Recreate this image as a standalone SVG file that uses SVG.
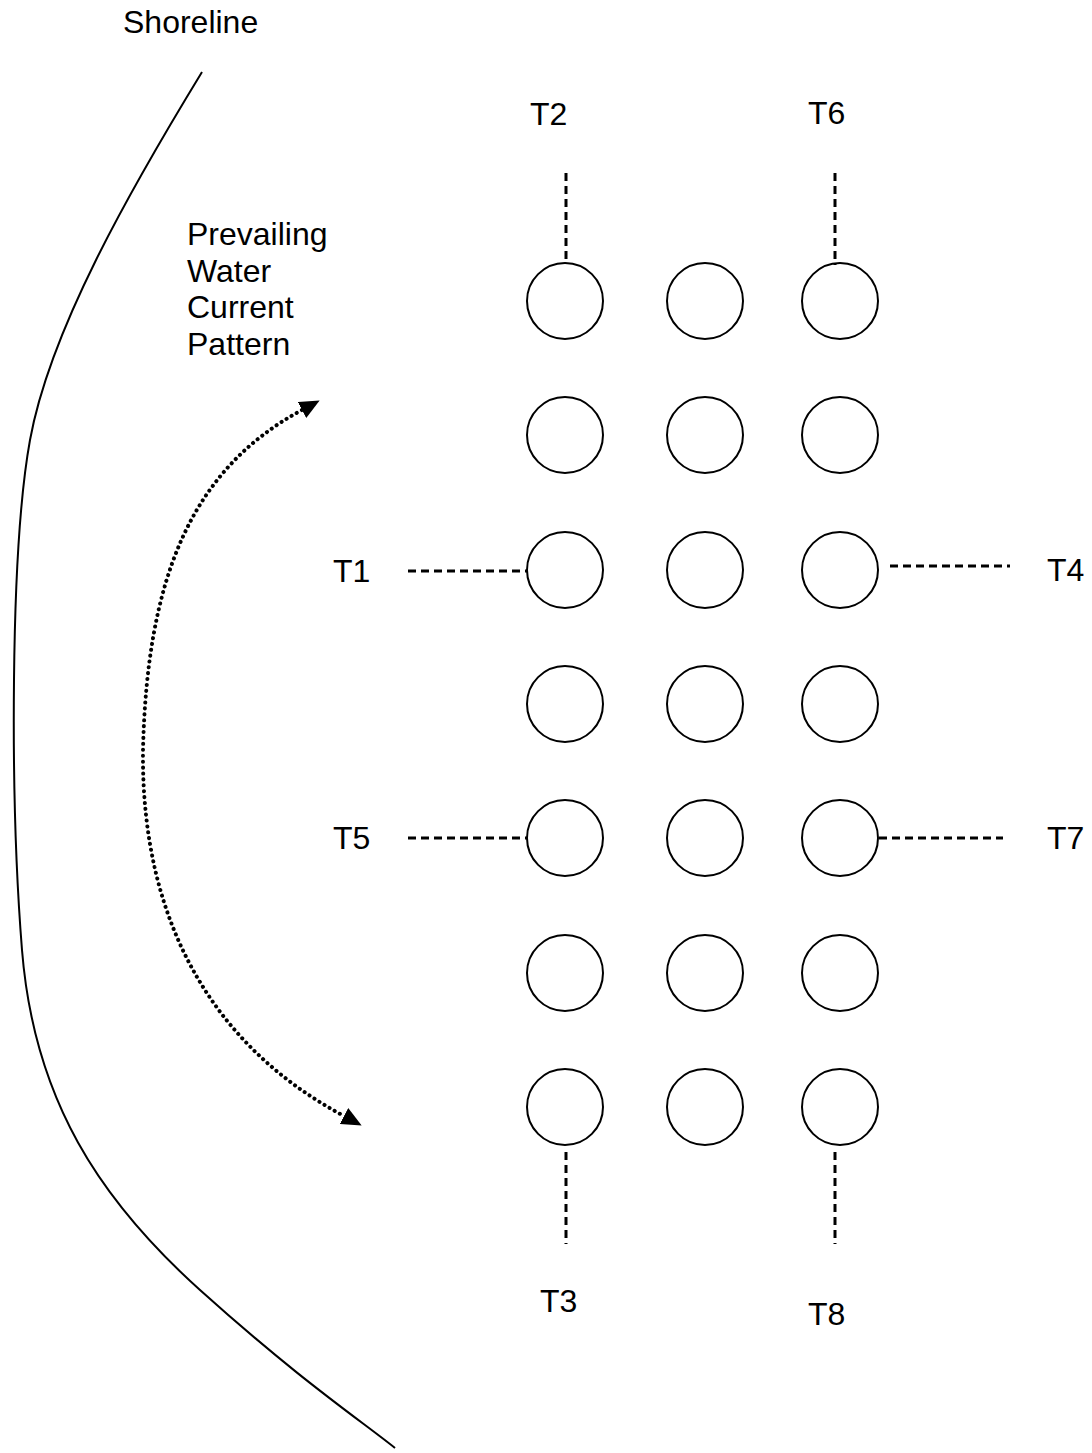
<svg xmlns="http://www.w3.org/2000/svg" width="1092" height="1453" viewBox="0 0 1092 1453">
<style>
text{font-family:"Liberation Sans",Arial,sans-serif;font-size:32px;fill:#000}
.pile{fill:none;stroke:#000;stroke-width:2}
.dash{fill:none;stroke:#000;stroke-width:3;stroke-dasharray:8 5}
.shore{fill:none;stroke:#000;stroke-width:2}
.flow{fill:none;stroke:#000;stroke-width:4;stroke-linecap:round;stroke-dasharray:0.1 5.8}
</style>
<defs>
<marker id="ah" viewBox="0 0 20 18" refX="0" refY="9" markerWidth="20" markerHeight="18" markerUnits="userSpaceOnUse" orient="auto-start-reverse">
<path d="M0,0 L20,9 L0,18 z" fill="#000"/>
</marker>
</defs>
<rect width="1092" height="1453" fill="#fff"/>
<g id="shoreline">
<path class="shore" d="M202,72 C130,190 50,330 30,440 S10,800 22,950 S100,1200 200,1290 S360,1420 395,1448"/>
<text x="123" y="33">Shoreline</text>
</g>
<g id="current">
<path class="flow" d="M302,410 C190,470 147,580 143,750 C141,930 220,1050 344,1116" marker-start="url(#ah)" marker-end="url(#ah)"/>
<text x="187" y="245">Prevailing</text>
<text x="187" y="282">Water</text>
<text x="187" y="318">Current</text>
<text x="187" y="355">Pattern</text>
</g>
<g id="piles">
<circle class="pile" cx="565" cy="301" r="38"/><circle class="pile" cx="705" cy="301" r="38"/><circle class="pile" cx="840" cy="301" r="38"/>
<circle class="pile" cx="565" cy="435" r="38"/><circle class="pile" cx="705" cy="435" r="38"/><circle class="pile" cx="840" cy="435" r="38"/>
<circle class="pile" cx="565" cy="570" r="38"/><circle class="pile" cx="705" cy="570" r="38"/><circle class="pile" cx="840" cy="570" r="38"/>
<circle class="pile" cx="565" cy="704" r="38"/><circle class="pile" cx="705" cy="704" r="38"/><circle class="pile" cx="840" cy="704" r="38"/>
<circle class="pile" cx="565" cy="838" r="38"/><circle class="pile" cx="705" cy="838" r="38"/><circle class="pile" cx="840" cy="838" r="38"/>
<circle class="pile" cx="565" cy="973" r="38"/><circle class="pile" cx="705" cy="973" r="38"/><circle class="pile" cx="840" cy="973" r="38"/>
<circle class="pile" cx="565" cy="1107" r="38"/><circle class="pile" cx="705" cy="1107" r="38"/><circle class="pile" cx="840" cy="1107" r="38"/>
</g>
<g id="connectors">
<line class="dash" x1="566" y1="173" x2="566" y2="263"/>
<line class="dash" x1="835" y1="173" x2="835" y2="265"/>
<line class="dash" x1="408" y1="571" x2="527" y2="571"/>
<line class="dash" x1="890" y1="566" x2="1010" y2="566"/>
<line class="dash" x1="408" y1="838" x2="527" y2="838"/>
<line class="dash" x1="879" y1="838" x2="1003" y2="838"/>
<line class="dash" x1="566" y1="1152" x2="566" y2="1244"/>
<line class="dash" x1="835" y1="1152" x2="835" y2="1244"/>
</g>
<g id="T1"><text x="333" y="582">T1</text></g>
<g id="T2"><text x="530" y="125">T2</text></g>
<g id="T3"><text x="540" y="1312">T3</text></g>
<g id="T4"><text x="1047" y="581">T4</text></g>
<g id="T5"><text x="333" y="849">T5</text></g>
<g id="T6"><text x="808" y="124">T6</text></g>
<g id="T7"><text x="1047" y="849">T7</text></g>
<g id="T8"><text x="808" y="1325">T8</text></g>
</svg>
